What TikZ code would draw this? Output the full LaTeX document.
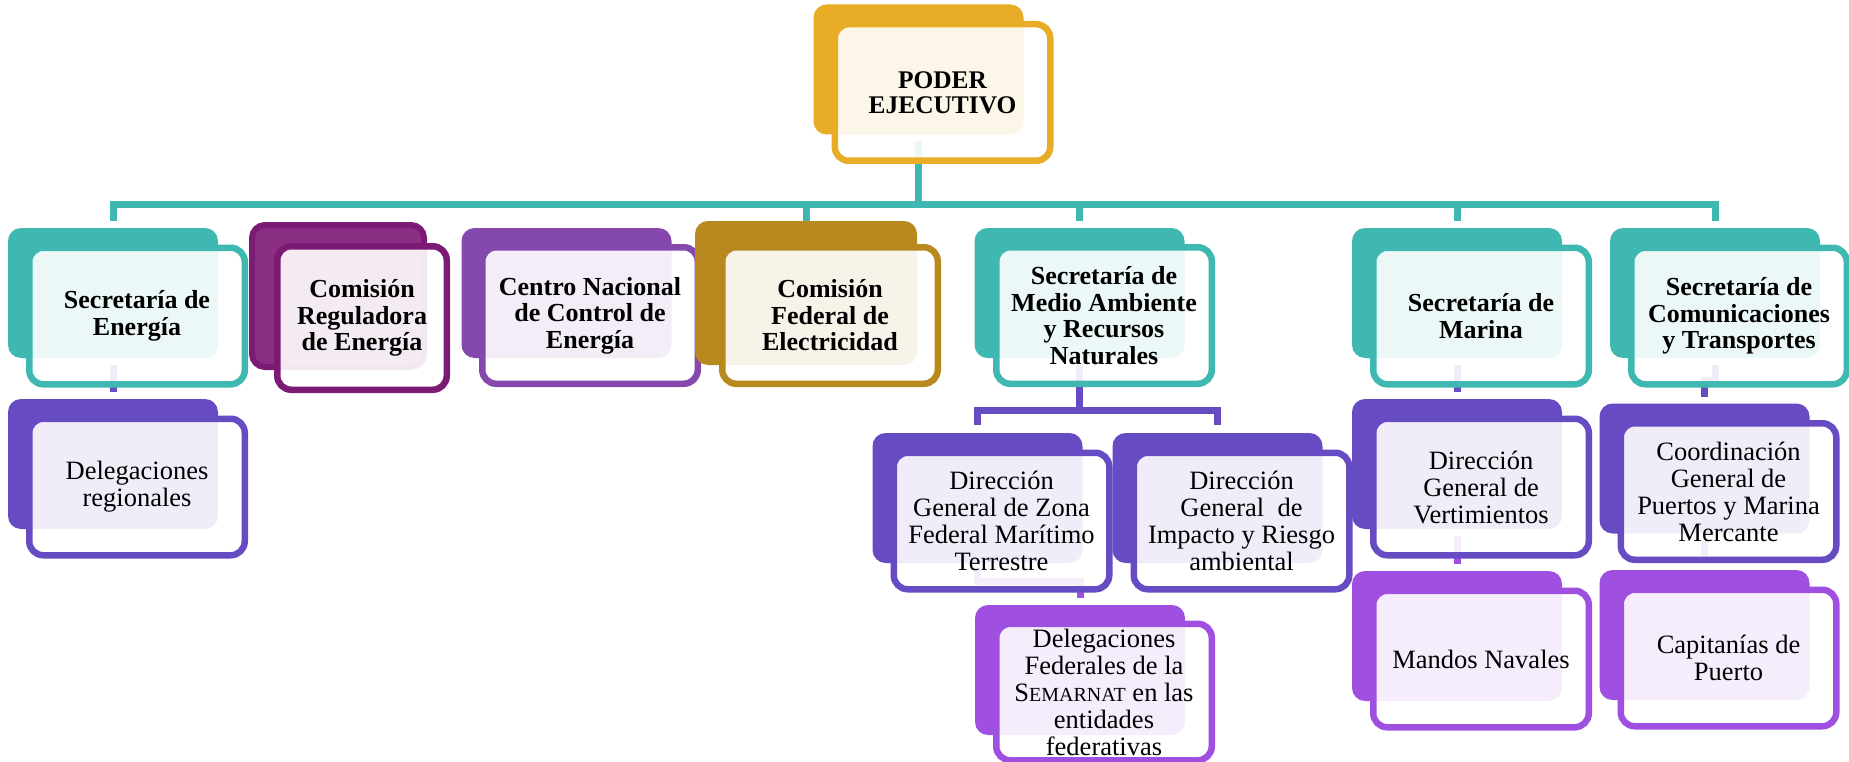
\documentclass[tikz,border=0pt]{standalone}
\usepackage{fontspec}
\setmainfont{Liberation Serif}
\usetikzlibrary{calc}
\pgfdeclarelayer{bg}
\pgfsetlayers{bg,main}
\definecolor{cteal}{HTML}{3EB8B0}
\definecolor{cgold}{HTML}{E9AC26}
\definecolor{cmag}{HTML}{7B1B74}
\definecolor{cmagfill}{HTML}{8A2F84}
\definecolor{cplum}{HTML}{8549AE}
\definecolor{cochre}{HTML}{B8891E}
\definecolor{cpur}{HTML}{674BC3}
\definecolor{cvio}{HTML}{A050E0}
\tikzset{
  backbox/.style={fill=#1, rounded corners=13pt, minimum width=210pt, minimum height=130pt, inner sep=0pt, outer sep=0pt},
  frontbox/.style={draw=#1, line width=6.5pt, fill=white, fill opacity=0.9, text opacity=1, rounded corners=14pt, minimum width=215.5pt, minimum height=136.5pt, inner sep=0pt, outer sep=0pt, align=center, text=black},
  boldtxt/.style={font=\fontsize{26}{26.5}\selectfont\bfseries},
  regtxt/.style={font=\fontsize{26.5}{27}\selectfont},
  conn/.style={draw=#1, line width=7pt},
}
\begin{document}
\begin{tikzpicture}[x=1pt,y=-1pt]
\useasboundingbox (0,0) rectangle (1849,762);

% top
\node[backbox=cgold] (poder-b) at (918.5,69.5) {};
\node[frontbox=cgold, font=\fontsize{25.4}{25}\selectfont\bfseries] (poder) at (942.5,92.5) {PODER\\EJECUTIVO};

% level 1
\node[backbox=cteal] (sen-b) at (113,293) {};
\node[frontbox=cteal, boldtxt] (sen) at (137,316) {Secretaría de\\Energía};

\node[fill=cmagfill, draw=cmag, line width=6pt, rounded corners=13pt, minimum width=172pt, minimum height=142pt, inner sep=0pt, outer sep=0pt] (creg-b) at (338,296) {};
\node[frontbox=cmag, boldtxt, minimum width=169.5pt, minimum height=143.5pt] (creg) at (362,318) {Comisión\\Reguladora\\de Energía};

\node[backbox=cplum] (cnce-b) at (566.5,293) {};
\node[frontbox=cplum, boldtxt] (cnce) at (590,315.5) {Centro Nacional\\de Control de\\Energía};

\node[backbox=cochre, minimum width=222pt, minimum height=144pt] (cfe-b) at (806,293) {};
\node[frontbox=cochre, boldtxt] (cfe) at (830,315.5) {Comisión\\Federal de\\Electricidad};

\node[backbox=cteal] (semar-b) at (1079.5,293) {};
\node[frontbox=cteal, boldtxt] (semar) at (1104,315.5) {Secretaría de\\Medio Ambiente\\y Recursos\\Naturales};

\node[backbox=cteal] (marina-b) at (1457,293) {};
\node[frontbox=cteal, boldtxt] (marina) at (1481,316) {Secretaría de\\Marina};

\node[backbox=cteal] (sct-b) at (1715,293) {};
\node[frontbox=cteal, boldtxt] (sct) at (1739,316) {Secretaría de\\Comunicaciones\\y Transportes};

% level 2
\node[backbox=cpur] (dreg-b) at (113,464) {};
\node[frontbox=cpur, regtxt] (dreg) at (137,487) {Delegaciones\\regionales};

\node[backbox=cpur] (dgzf-b) at (977.5,498) {};
\node[frontbox=cpur, regtxt] (dgzf) at (1001.5,521) {Dirección\\General de Zona\\Federal Marítimo\\Terrestre};

\node[backbox=cpur] (dgira-b) at (1217.5,498) {};
\node[frontbox=cpur, regtxt] (dgira) at (1241.5,521) {Dirección\\General\ \ de\\Impacto y Riesgo\\ambiental};

\node[backbox=cpur] (dgv-b) at (1457,464) {};
\node[frontbox=cpur, regtxt] (dgv) at (1481,487) {Dirección\\General de\\Vertimientos};

\node[backbox=cpur] (coord-b) at (1704.5,468.5) {};
\node[frontbox=cpur, regtxt] (coord) at (1728.5,491.5) {Coordinación\\General de\\Puertos y Marina\\Mercante};

% level 3
\node[backbox=cvio] (delfed-b) at (1080,670) {};
\node[frontbox=cvio, regtxt] (delfed) at (1104,692) {Delegaciones\\Federales de la\\S{\fontsize{20}{27}\selectfont EMARNAT} en las\\entidades\\federativas};

\node[backbox=cvio] (mandos-b) at (1457,636) {};
\node[frontbox=cvio, regtxt] (mandos) at (1481,659) {Mandos Navales};

\node[backbox=cvio] (capit-b) at (1704.5,635) {};
\node[frontbox=cvio, regtxt] (capit) at (1728.5,658) {Capitanías de\\Puerto};

% connectors
\begin{pgfonlayer}{bg}
\coordinate (bus) at (0,204.5);
\draw[conn=cteal] ($(poder-b.south)+(0,7)$) -- (poder-b.south |- bus);
\draw[conn=cteal] ($(sen-b.north)+(0,-7)$) -- (sen-b.north |- bus) -- (sct-b.north |- bus) -- ($(sct-b.north)+(0,-7)$);
\draw[conn=cteal] (cfe-b.north) -- (cfe-b.north |- bus);
\foreach \n in {semar,marina} \draw[conn=cteal] ($(\n-b.north)+(0,-7)$) -- (\n-b.north |- bus);

\draw[conn=cpur] ($(sen-b.south)+(0,7)$) -- ($(dreg-b.north)+(0,-7)$);

\coordinate (sbus) at (0,410);
\draw[conn=cpur] ($(semar-b.south)+(0,7)$) -- (semar-b.south |- sbus);
\draw[conn=cpur] ($(dgzf-b.north)+(0,-8)$) -- (dgzf-b.north |- sbus) -- (dgira-b.north |- sbus) -- ($(dgira-b.north)+(0,-8)$);
\draw[conn=cvio] ($(dgzf-b.south)+(0,7)$) -- ++(0,11) -| ($(delfed-b.north)+(0,-7)$);

\draw[conn=cpur] ($(marina-b.south)+(0,7)$) -- ($(dgv-b.north)+(0,-7)$);
\draw[conn=cvio] ($(dgv-b.south)+(0,7)$) -- ($(mandos-b.north)+(0,-7)$);

\draw[conn=cpur] ($(sct-b.south)+(0,7)$) -- ++(0,15) -| ($(coord-b.north)+(0,-7)$);
\draw[conn=cvio] ($(coord-b.south)+(0,7)$) -- ($(capit-b.north)+(0,-7)$);
\end{pgfonlayer}
\end{tikzpicture}
\end{document}
